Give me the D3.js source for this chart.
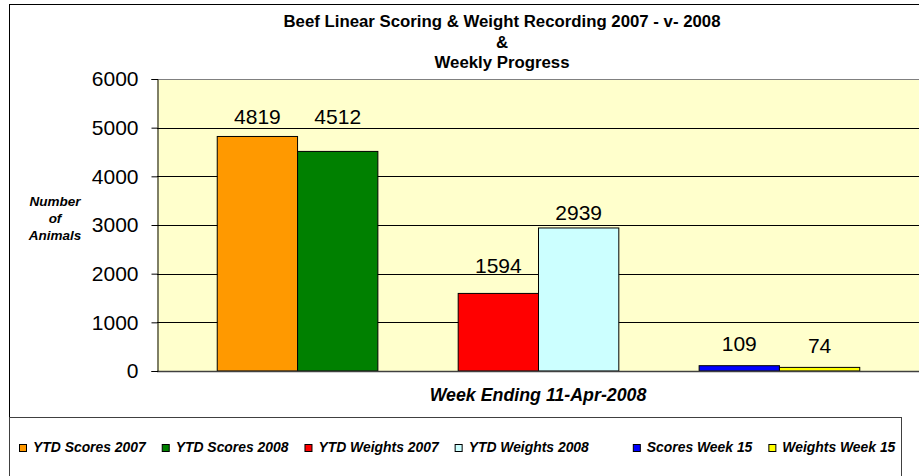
<!DOCTYPE html>
<html>
<head>
<meta charset="utf-8">
<script src="https://cdn.jsdelivr.net/npm/d3@7"></script>
<style>
  body { margin: 0; background: #fff; }
  text { font-family: "Liberation Sans", Arial, sans-serif; }
</style>
</head>
<body>
<svg id="chart"></svg>
<script>
const width = 919;
const height = 476;

// data
const groups = ["YTD Scores", "YTD Weights", "Week 15"];
const seriesNames = ["YTD Scores 2007", "YTD Scores 2008", "YTD Weights 2007",
                     "YTD Weights 2008", "Scores Week 15", "Weights Week 15"];
const seriesValues = [4819, 4512, 1594, 2939, 109, 74];
const seriesColors = ["#FF9900", "#008000", "#FF0000", "#CCFFFF", "#0000FF", "#FFFF00"];
const yTicks = [0, 1000, 2000, 3000, 4000, 5000, 6000];
const titleLines = ["Beef Linear Scoring & Weight Recording 2007 - v- 2008", "&", "Weekly Progress"];
const yTitleLines = ["Number", "of", "Animals"];
const xTitle = "Week Ending 11-Apr-2008";

// the labels were nudged by hand in the original, gap above each bar top
const labelGap = [12, 27, 20, 8, 15, 14];

const plot = { left: 157, top: 79, right: 920, bottom: 371 };

const data = seriesNames.map((name, i) => ({
    name: name,
    value: seriesValues[i],
    color: seriesColors[i],
    group: groups[Math.floor(i / 2)],
    sub: i % 2,
    gap: labelGap[i]
}));

const svg = d3.select("#chart")
    .attr("width", width)
    .attr("height", height);

// outer chart border (runs past the picture on right and bottom)
svg.append("rect")
    .attr("x", 9.5).attr("y", 4.5)
    .attr("width", 1000).attr("height", 600)
    .attr("fill", "#fff").attr("stroke", "#000");

const xScale = d3.scaleBand()
    .domain(groups)
    .range([plot.left, plot.right])
    .paddingInner(1 / 3)
    .paddingOuter(0.25);

const xSub = d3.scaleBand()
    .domain([0, 1])
    .range([0, xScale.bandwidth()]);

const yScale = d3.scaleLinear()
    .domain([0, 6000])
    .range([plot.bottom, plot.top]);

// plot area
svg.append("rect")
    .attr("x", plot.left).attr("y", plot.top)
    .attr("width", plot.right - plot.left).attr("height", plot.bottom - plot.top)
    .attr("fill", "#FFFFCC");

svg.append("line")
    .attr("x1", plot.left).attr("x2", plot.right)
    .attr("y1", plot.top + 0.5).attr("y2", plot.top + 0.5)
    .attr("stroke", "#808080");

// gridlines
svg.append("g")
    .selectAll("line")
    .data(yTicks.filter(t => t > 0 && t < 6000))
    .join("line")
    .attr("x1", plot.left).attr("x2", plot.right)
    .attr("y1", d => Math.round(yScale(d)) + 0.5)
    .attr("y2", d => Math.round(yScale(d)) + 0.5)
    .attr("stroke", "#000");

// bars
svg.append("g")
    .selectAll("rect")
    .data(data)
    .join("rect")
    .attr("x", d => xScale(d.group) + xSub(d.sub))
    .attr("y", d => yScale(d.value))
    .attr("width", xSub.bandwidth())
    .attr("height", d => yScale(0) - yScale(d.value))
    .attr("fill", d => d.color)
    .attr("stroke", "#000")
    .attr("stroke-width", 1);

// value labels
svg.append("g")
    .selectAll("text")
    .data(data)
    .join("text")
    .attr("x", d => xScale(d.group) + xSub(d.sub) + xSub.bandwidth() / 2)
    .attr("y", d => yScale(d.value) - d.gap)
    .attr("text-anchor", "middle")
    .attr("font-size", 21)
    .attr("fill", "#000")
    .text(d => d.value);

// x axis line
svg.append("line")
    .attr("x1", plot.left).attr("x2", plot.right)
    .attr("y1", plot.bottom + 0.5).attr("y2", plot.bottom + 0.5)
    .attr("stroke", "#404040").attr("stroke-width", 1.5);

// y axis
const yAxis = d3.axisLeft(yScale)
    .tickValues(yTicks)
    .tickSize(6)
    .tickPadding(13)
    .tickFormat(d3.format("d"));

const gy = svg.append("g")
    .attr("transform", `translate(${plot.left + 0.5},0)`)
    .call(yAxis);
gy.select(".domain").attr("stroke", "#000");
gy.selectAll(".tick line").attr("stroke", "#000");
gy.selectAll(".tick text")
    .attr("font-size", 21)
    .attr("font-family", "Liberation Sans, Arial, sans-serif")
    .attr("fill", "#000");

// title
svg.append("g")
    .selectAll("text")
    .data(titleLines)
    .join("text")
    .attr("x", 502)
    .attr("y", (d, i) => 27 + i * 20.5)
    .attr("text-anchor", "middle")
    .attr("font-size", 16.8)
    .attr("font-weight", "bold")
    .text(d => d);

// y axis title
svg.append("g")
    .selectAll("text")
    .data(yTitleLines)
    .join("text")
    .attr("x", 55)
    .attr("y", (d, i) => 206 + i * 17)
    .attr("text-anchor", "middle")
    .attr("font-size", 13.5)
    .attr("font-weight", "bold")
    .attr("font-style", "italic")
    .text(d => d);

// x axis title
svg.append("text")
    .attr("x", 538)
    .attr("y", 401)
    .attr("text-anchor", "middle")
    .attr("font-size", 17.8)
    .attr("font-weight", "bold")
    .attr("font-style", "italic")
    .text(xTitle);

// legend
svg.append("rect")
    .attr("x", 9.5).attr("y", 417.5)
    .attr("width", 892).attr("height", 100)
    .attr("fill", "#fff").attr("stroke", "#404040");

const legend = svg.append("g");
let cursor = 19;
data.forEach((d, i) => {
    if (i === 4) cursor += 28;
    legend.append("rect")
        .attr("x", cursor + 0.5).attr("y", 444.5)
        .attr("width", 7).attr("height", 7)
        .attr("fill", d.color).attr("stroke", "#000");
    const t = legend.append("text")
        .attr("x", cursor + 14)
        .attr("y", 452)
        .attr("font-size", 13.9)
        .attr("font-weight", "bold")
        .attr("font-style", "italic")
        .text(d.name);
    cursor += 14 + t.node().getComputedTextLength() + 16;
});
</script>
</body>
</html>
